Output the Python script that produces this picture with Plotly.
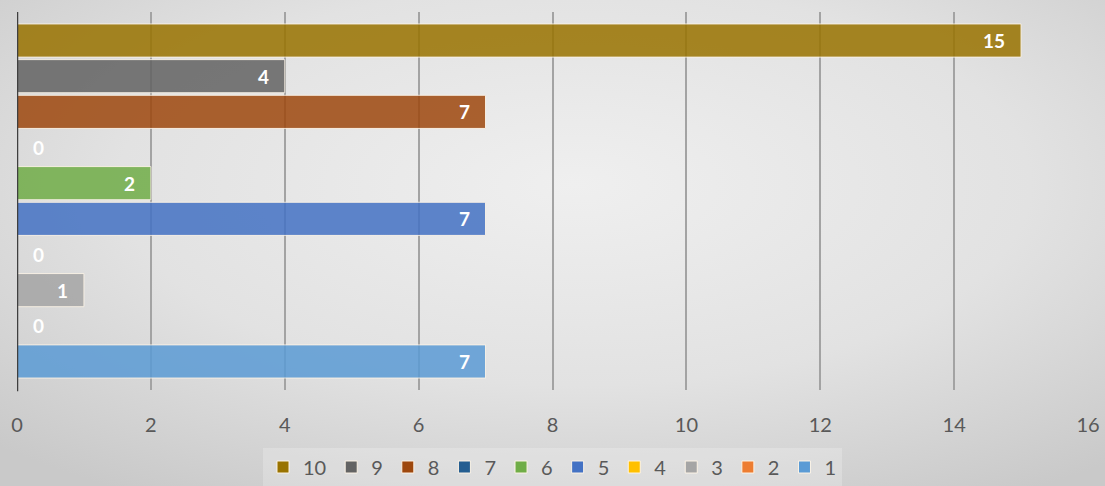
import base64
import plotly.graph_objects as go

# Series names and their values (one bar per series)
series_names = ["1", "2", "3", "4", "5", "6", "7", "8", "9", "10"]
series_values = [7, 0, 1, 0, 7, 2, 0, 7, 4, 15]
series_colors = ["#5B9BD5", "#ED7D31", "#A5A5A5", "#FFC000", "#4472C4",
                 "#70AD47", "#255E91", "#9E480E", "#636363", "#997300"]
x_ticks = [0, 2, 4, 6, 8, 10, 12, 14, 16]

W, H = 1105, 486
ML, MR, MT, MB = 17, 17, 12, 96
PW, PH = W - ML - MR, H - MT - MB

FONT = "Lato, 'Open Sans', sans-serif"

fig = go.Figure()
for i, (name, val, col) in enumerate(zip(series_names, series_values, series_colors)):
    fig.add_trace(go.Bar(
        x=[val], y=[i + 1], name=name, orientation="h",
        width=0.93,
        marker=dict(color=col, opacity=0.85,
                    line=dict(color="rgba(255,246,232,0.95)", width=1)),
        hoverinfo="x+name",
    ))
    # value label at the inside end of each bar
    if val > 0:
        fig.add_annotation(x=val, y=i + 1, text=f"<b>{val}</b>", showarrow=False,
                           xanchor="right", xshift=-14,
                           font=dict(family=FONT, size=19, color="white"))
    else:
        fig.add_annotation(x=val, y=i + 1, text=f"<b>{val}</b>", showarrow=False,
                           xanchor="left", xshift=14,
                           font=dict(family=FONT, size=19, color="white"))

# soft radial background
svg = f"""<svg xmlns='http://www.w3.org/2000/svg' width='{W}' height='{H}'>
<defs><radialGradient id='g' cx='52%' cy='38%' r='75%'>
<stop offset='0%' stop-color='#efefef'/><stop offset='55%' stop-color='#e2e2e2'/>
<stop offset='100%' stop-color='#c9c9c9'/></radialGradient></defs>
<rect width='100%' height='100%' fill='url(#g)'/></svg>"""
bg_src = "data:image/svg+xml;base64," + base64.b64encode(svg.encode()).decode()

fig.update_layout(
    width=W, height=H,
    margin=dict(l=ML, r=MR, t=MT, b=MB, pad=0, autoexpand=False),
    paper_bgcolor="#d6d6d6",
    plot_bgcolor="rgba(0,0,0,0)",
    barmode="overlay",
    showlegend=True,
    legend=dict(orientation="h", traceorder="reversed",
                x=0.5, xanchor="center", y=-(467 - (MT + PH)) / PH, yanchor="middle",
                bgcolor="rgba(255,255,255,0.22)",
                font=dict(family=FONT, size=20, color="#595959"),
                itemwidth=30, tracegroupgap=0),
    images=[dict(source=bg_src, xref="paper", yref="paper",
                 x=-ML / PW, y=1 + MT / PH, sizex=W / PW, sizey=H / PH,
                 xanchor="left", yanchor="top", sizing="stretch", layer="below")],
    xaxis=dict(range=[0, 16], tickvals=x_ticks, showgrid=True, automargin=False,
               gridcolor="#a3a3a3", gridwidth=1.5, zeroline=False,
               showline=False, ticks="", ticklabelstandoff=21,
               tickfont=dict(family=FONT, size=20, color="#595959")),
    yaxis=dict(range=[0.2, 10.8], showticklabels=False, showgrid=False, automargin=False,
               zeroline=False, showline=False, ticks=""),
    shapes=[dict(type="line", xref="x", yref="paper", x0=0, x1=0, y0=-0.003, y1=1,
                 line=dict(color="#3f3f3f", width=2.5), layer="above")],
)

fig.write_html(
    "out.html",
    post_script="document.body.style.margin='0';document.body.style.overflow='hidden';",
)
